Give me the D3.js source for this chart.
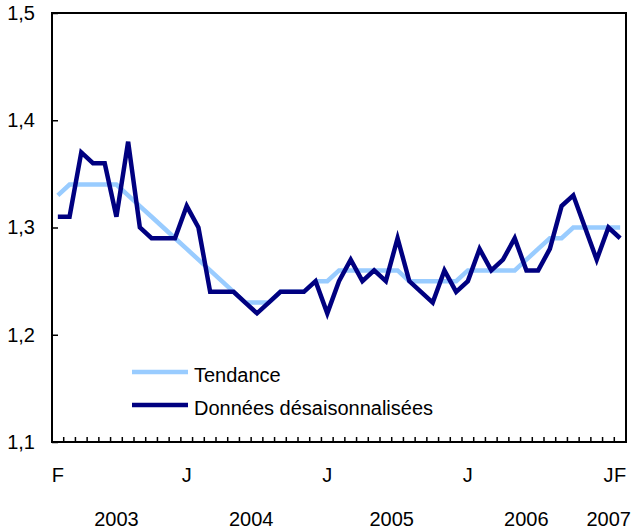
<!DOCTYPE html>
<html>
<head>
<meta charset="utf-8">
<script src="https://cdn.jsdelivr.net/npm/d3@7"></script>
<style>
  body { margin: 0; background: #fff; }
  text { font-family: "Liberation Sans", Arial, sans-serif; font-size: 20px; fill: #000; }
</style>
</head>
<body>
<div id="chart"></div>
<script>
// Months Feb 2003 .. Feb 2007
const months = d3.timeMonth.range(new Date(2003, 1, 1), new Date(2007, 2, 1)).map(d3.timeFormat("%Y-%m"));

const tendance = [
  1.33, 1.34, 1.34, 1.34, 1.34, 1.34, 1.33, 1.32, 1.31, 1.30, 1.29,
  1.28, 1.27, 1.26, 1.25, 1.24, 1.23, 1.23, 1.23, 1.24, 1.24, 1.24, 1.25,
  1.25, 1.26, 1.26, 1.26, 1.26, 1.26, 1.26, 1.25, 1.25, 1.25, 1.25, 1.25,
  1.26, 1.26, 1.26, 1.26, 1.26, 1.27, 1.28, 1.29, 1.29, 1.30, 1.30, 1.30,
  1.30, 1.30
];

const desaison = [
  1.31, 1.31, 1.37, 1.36, 1.36, 1.31, 1.38, 1.30, 1.29, 1.29, 1.29,
  1.32, 1.30, 1.24, 1.24, 1.24, 1.23, 1.22, 1.23, 1.24, 1.24, 1.24, 1.25,
  1.22, 1.25, 1.27, 1.25, 1.26, 1.25, 1.29, 1.25, 1.24, 1.23, 1.26, 1.24,
  1.25, 1.28, 1.26, 1.27, 1.29, 1.26, 1.26, 1.28, 1.32, 1.33, 1.30, 1.27,
  1.30, 1.29
];

const yTicks = [1.1, 1.2, 1.3, 1.4, 1.5];
const monthLabels = [["2003-02", "F"], ["2004-01", "J"], ["2005-01", "J"], ["2006-01", "J"], ["2007-01", "J"], ["2007-02", "F"]];
const years = ["2003", "2004", "2005", "2006", "2007"];
const seriesNames = ["Tendance", "Données désaisonnalisées"];
const colors = ["#99ccff", "#000080"];

const width = 633, height = 529;
const plot = {left: 52, right: 626, top: 13, bottom: 442};

const svg = d3.select("#chart").append("svg")
  .attr("width", width)
  .attr("height", height);

const x = d3.scaleBand().domain(months).range([plot.left, plot.right]).padding(0);
const y = d3.scaleLinear().domain([1.1, 1.5]).range([plot.bottom, plot.top]);
const cx = m => x(m) + x.bandwidth() / 2;

// y axis (ticks inside)
const yAxis = svg.append("g")
  .attr("transform", "translate(" + plot.left + ",0)")
  .call(d3.axisLeft(y).tickValues(yTicks)
    .tickSizeInner(-6).tickSizeOuter(0).tickPadding(17)
    .tickFormat(d => d3.format(".1f")(d).replace(".", ",")));
yAxis.select(".domain").remove();
yAxis.selectAll("line").attr("stroke", "#000").attr("stroke-width", 1.5);
yAxis.selectAll("text").style("font-size", "20px").attr("font-family", null);

// month ticks on the bottom (inside)
svg.append("g").selectAll("line")
  .data(months.slice(1))
  .enter().append("line")
  .attr("x1", d => x(d)).attr("x2", d => x(d))
  .attr("y1", plot.bottom).attr("y2", plot.bottom - 5)
  .attr("stroke", "#000").attr("stroke-width", 1.5);

// frame
svg.append("rect")
  .attr("x", plot.left).attr("y", plot.top)
  .attr("width", plot.right - plot.left).attr("height", plot.bottom - plot.top)
  .attr("fill", "none").attr("stroke", "#000").attr("stroke-width", 2);

// month letters
svg.append("g").selectAll("text")
  .data(monthLabels)
  .enter().append("text")
  .attr("x", d => cx(d[0]))
  .attr("y", 482)
  .attr("text-anchor", "middle")
  .text(d => d[1]);

// year labels centred under their months
const yearX = years.map(function(yr) {
  const ms = months.filter(m => m.startsWith(yr));
  return (x(ms[0]) + x(ms[ms.length - 1]) + x.bandwidth()) / 2;
});
svg.append("g").selectAll("text")
  .data(years)
  .enter().append("text")
  .attr("x", (d, i) => i === years.length - 1 ? 631 : yearX[i] - (i === 3 ? 6 : 0))
  .attr("y", 526)
  .attr("text-anchor", (d, i) => i === years.length - 1 ? "end" : "middle")
  .text(d => d);

// lines
const line = d3.line()
  .x((d, i) => cx(months[i]))
  .y(d => y(d));

[tendance, desaison].forEach(function(series, i) {
  svg.append("path")
    .datum(series)
    .attr("d", line)
    .attr("fill", "none")
    .attr("stroke", colors[i])
    .attr("stroke-width", 4.5)
    .attr("stroke-linejoin", "miter");
});

// legend
const legend = svg.append("g");
seriesNames.forEach(function(name, i) {
  const ly = 372 + i * 33;
  legend.append("line")
    .attr("x1", 132).attr("x2", 188)
    .attr("y1", ly).attr("y2", ly)
    .attr("stroke", colors[i]).attr("stroke-width", 4.5);
  legend.append("text")
    .attr("x", 194).attr("y", ly + 10)
    .text(name);
});
</script>
</body>
</html>
